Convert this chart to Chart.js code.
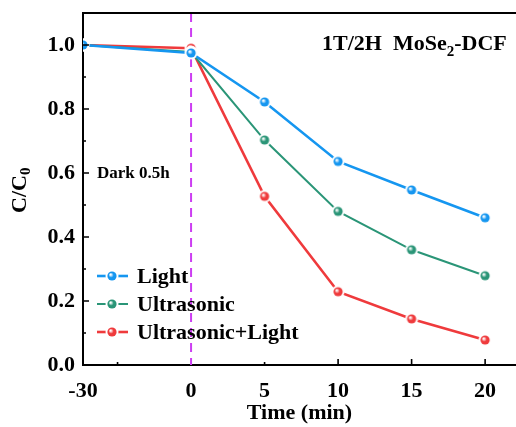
<!DOCTYPE html>
<html>
<head>
<meta charset="utf-8">
<script src="https://cdn.jsdelivr.net/npm/chart.js@4/dist/chart.umd.min.js"></script>
<style>
    html, body { margin: 0; padding: 0; background: #fff; }
    #wrap { width: 516px; height: 427px; }
</style>
</head>
<body>
<div id="wrap"><canvas id="chart"></canvas></div>
<script>
// time axis: -30 min sits on a compressed stretch before 0
const timeLabels = ['-30', '0', '5', '10', '15', '20'];
const timePos = [-7.35, 0, 5, 10, 15, 20];

const light = [1.0, 0.975, 0.822, 0.636, 0.547, 0.46];
const ultrasonic = [1.0, 0.978, 0.703, 0.48, 0.36, 0.279];
const ultrasonicLight = [1.0, 0.99, 0.527, 0.229, 0.144, 0.078];

const yTicks = [0, 0.2, 0.4, 0.6, 0.8, 1.0];
const yMinor = [0.1, 0.3, 0.5, 0.7, 0.9];
const xMajor = [10, 15, 20];
const xMinor = [-5, 5];

const FONT = '"Liberation Serif", "Times New Roman", serif';

function marker(color) {
    let c = document.createElement('canvas');
    c.width = 14; c.height = 14;
    let g = c.getContext('2d');
    g.fillStyle = '#fff';
    g.beginPath(); g.arc(7, 7, 6.5, 0, Math.PI * 2); g.fill();
    let grad = g.createRadialGradient(5.5, 5.5, 0.5, 7, 7, 5);
    grad.addColorStop(0, 'rgba(255,255,255,0.95)');
    grad.addColorStop(0.45, color);
    grad.addColorStop(1, color);
    g.fillStyle = grad;
    g.beginPath(); g.arc(7, 7, 4.6, 0, Math.PI * 2); g.fill();
    return c;
}

const series = [
    { label: 'Light', data: light, color: '#1596f0', width: 2.6 },
    { label: 'Ultrasonic', data: ultrasonic, color: '#2a9577', width: 2 },
    { label: 'Ultrasonic+Light', data: ultrasonicLight, color: '#ef3a3c', width: 2.6 },
];

const decor = {
    id: 'decor',
    beforeDatasetsDraw(chart) {
        let ctx = chart.ctx, a = chart.chartArea;
        let x = chart.scales.x.getPixelForValue(0);
        ctx.save();
        ctx.strokeStyle = '#cc3df2';
        ctx.lineWidth = 2;
        ctx.setLineDash([9, 6]);
        ctx.beginPath();
        ctx.moveTo(x, a.top);
        ctx.lineTo(x, a.bottom);
        ctx.stroke();
        ctx.restore();
    },
    afterDraw(chart) {
        let ctx = chart.ctx, a = chart.chartArea;
        let xs = chart.scales.x, ys = chart.scales.y;
        ctx.save();
        // frame top + inward ticks
        ctx.strokeStyle = '#000';
        ctx.lineWidth = 2;
        ctx.beginPath();
        ctx.moveTo(a.left - 1, a.top);
        ctx.lineTo(a.right, a.top);
        ctx.stroke();
        ctx.lineWidth = 1.6;
        ctx.beginPath();
        yTicks.forEach(v => { let y = ys.getPixelForValue(v); ctx.moveTo(a.left, y); ctx.lineTo(a.left + 6, y); });
        yMinor.forEach(v => { let y = ys.getPixelForValue(v); ctx.moveTo(a.left, y); ctx.lineTo(a.left + 3, y); });
        xMajor.forEach(v => { let x = xs.getPixelForValue(v); ctx.moveTo(x, a.bottom); ctx.lineTo(x, a.bottom - 6); });
        xMinor.forEach(v => { let x = xs.getPixelForValue(v); ctx.moveTo(x, a.bottom); ctx.lineTo(x, a.bottom - 3); });
        ctx.stroke();

        ctx.fillStyle = '#000';
        ctx.textBaseline = 'middle';
        // legend
        chart.data.datasets.forEach((ds, i) => {
            let y = 276 + i * 28;
            ctx.strokeStyle = ds.borderColor;
            ctx.lineWidth = ds.borderWidth;
            ctx.beginPath();
            ctx.moveTo(97, y); ctx.lineTo(128, y);
            ctx.stroke();
            ctx.drawImage(ds.pointStyle, 112 - 7, y - 7);
            ctx.font = 'bold 22px ' + FONT;
            ctx.textAlign = 'left';
            ctx.fillText(ds.label, 137, y + 1);
        });

        // annotations
        ctx.font = 'bold 17px ' + FONT;
        ctx.fillText('Dark 0.5h', 97, 174);
        ctx.font = 'bold 22px ' + FONT;
        let t1 = '1T/2H  MoSe', t2 = '-DCF';
        let x0 = 322;
        ctx.fillText(t1, x0, 44);
        x0 += ctx.measureText(t1).width;
        ctx.font = 'bold 15px ' + FONT;
        ctx.fillText('2', x0, 52);
        x0 += ctx.measureText('2').width;
        ctx.font = 'bold 22px ' + FONT;
        ctx.fillText(t2, x0, 44);

        // axis titles
        ctx.font = 'bold 22px ' + FONT;
        ctx.textAlign = 'center';
        ctx.fillText('Time (min)', (a.left + a.right) / 2, 413);
        ctx.translate(20, 190);
        ctx.rotate(-Math.PI / 2);
        ctx.textAlign = 'left';
        let w1 = ctx.measureText('C/C').width;
        ctx.fillText('C/C', -w1 / 2 - 4, 0);
        ctx.font = 'bold 15px ' + FONT;
        ctx.fillText('0', w1 / 2 - 4, 6);
        ctx.restore();
    }
};

new Chart(document.getElementById('chart'), {
    type: 'line',
    data: {
        datasets: series.map(s => ({
            label: s.label,
            data: s.data.map((v, i) => ({ x: timePos[i], y: v })),
            borderColor: s.color,
            backgroundColor: s.color,
            borderWidth: s.width,
            pointStyle: marker(s.color),
            pointRadius: 5,
            tension: 0,
        }))
    },
    options: {
        responsive: true,
        maintainAspectRatio: false,
        animation: false,
        layout: { autoPadding: false, padding: { top: 13, right: 0, left: 0, bottom: 0 } },
        plugins: {
            legend: { display: false },
            tooltip: { enabled: false },
        },
        scales: {
            x: {
                type: 'linear',
                min: timePos[0],
                max: 22.1,
                afterBuildTicks: scale => { scale.ticks = timePos.map(v => ({ value: v })); },
                afterFit: scale => { scale.height = 62; scale.paddingLeft = 0; scale.paddingRight = 0; },
                grid: { display: false, drawTicks: false },
                border: { color: '#000', width: 2 },
                ticks: {
                    padding: 13,
                    color: '#000',
                    maxRotation: 0,
                    font: { family: FONT, size: 22, weight: 'bold' },
                    callback: (v) => timeLabels[timePos.indexOf(v)],
                },
            },
            y: {
                min: 0,
                max: 1.1,
                afterBuildTicks: scale => { scale.ticks = yTicks.map(v => ({ value: v })); },
                afterFit: scale => { scale.width = 83; scale.paddingTop = 0; scale.paddingBottom = 0; },
                grid: { display: false, drawTicks: false },
                border: { color: '#000', width: 2 },
                ticks: {
                    padding: 8,
                    color: '#000',
                    font: { family: FONT, size: 22, weight: 'bold' },
                    callback: v => v.toFixed(1),
                },
            },
        },
    },
    plugins: [decor],
});
</script>
</body>
</html>
